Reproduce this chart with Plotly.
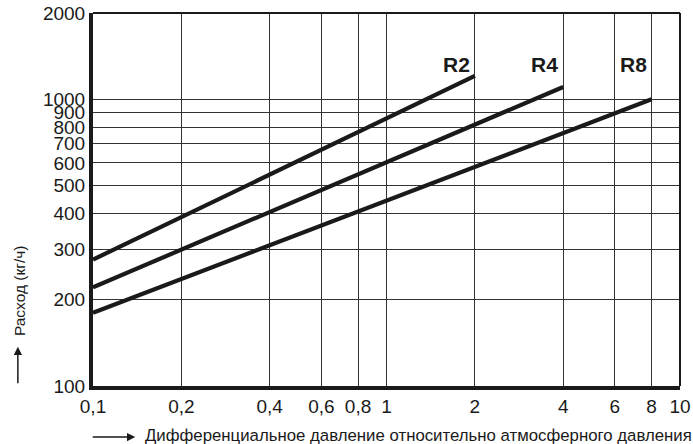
import math
import plotly.graph_objects as go

# Data
series_names = ["R2", "R4", "R8"]
r2_x = [0.1, 2]
r2_y = [276, 1206]
r4_x = [0.1, 4]
r4_y = [221, 1104]
r8_x = [0.1, 8]
r8_y = [180, 1000]

x_ticks = [0.1, 0.2, 0.4, 0.6, 0.8, 1, 2, 4, 6, 8, 10]
x_tick_labels = ["0,1", "0,2", "0,4", "0,6", "0,8", "1", "2", "4", "6", "8", "10"]
y_ticks = [100, 200, 300, 400, 500, 600, 700, 800, 900, 1000, 2000]
y_tick_labels = [str(v) for v in y_ticks]
label_y = 1320

x_title = "Дифференциальное давление относительно атмосферного давления"
y_title = "Расход (кг/ч)"

FONT = "Liberation Sans, Arial, sans-serif"
INK = "#1a1a1a"

fig = go.Figure()
for name, xs, ys in zip(series_names, [r2_x, r4_x, r8_x], [r2_y, r4_y, r8_y]):
    fig.add_trace(go.Scatter(x=xs, y=ys, mode="lines", name=name,
                             line=dict(color=INK, width=4.2), showlegend=False))
    fig.add_annotation(x=math.log10(xs[-1]), y=math.log10(label_y), xref="x", yref="y",
                       text="<b>%s</b>" % name, showarrow=False, xanchor="right",
                       yanchor="middle", xshift=-3,
                       font=dict(family=FONT, size=21, color=INK))

fig.update_xaxes(type="log", range=[-1, 1], tickvals=x_ticks, ticktext=x_tick_labels,
                 showgrid=True, gridcolor="#333", gridwidth=1, showline=True,
                 linecolor=INK, linewidth=4, ticks="", zeroline=False, automargin=False,
                 tickfont=dict(family=FONT, size=19, color=INK))
fig.update_yaxes(type="log", range=[2, math.log10(2000)], tickvals=y_ticks, ticktext=y_tick_labels,
                 showgrid=True, gridcolor="#333", gridwidth=1, showline=True,
                 linecolor=INK, linewidth=4, ticks="", zeroline=False, automargin=False,
                 tickfont=dict(family=FONT, size=19, color=INK))

# top and right border
fig.add_shape(type="line", xref="paper", yref="paper", x0=0, x1=1, y0=1, y1=1,
              line=dict(color=INK, width=2))
fig.add_shape(type="line", xref="paper", yref="paper", x0=1, x1=1, y0=0, y1=1,
              line=dict(color=INK, width=2))

# axis titles
fig.add_annotation(x=0.555, y=-0.134, xref="paper", yref="paper",
                   xanchor="center", yanchor="middle", text=x_title, showarrow=False,
                   font=dict(family=FONT, size=16.8, color=INK))
fig.add_annotation(x=-0.124, y=0.255, xref="paper", yref="paper", textangle=-90,
                   xanchor="center", yanchor="middle", text=y_title, showarrow=False,
                   font=dict(family=FONT, size=15.5, color=INK))

# arrows next to the axis titles
fig.add_annotation(x=0.072, y=-0.137, xref="paper", yref="paper", ax=-44, ay=0,
                   showarrow=True, arrowhead=2, arrowsize=1.1, arrowwidth=1.5,
                   arrowcolor=INK, text="", standoff=0)
fig.add_annotation(x=-0.128, y=0.105, xref="paper", yref="paper", ax=0, ay=38,
                   showarrow=True, arrowhead=2, arrowsize=1.1, arrowwidth=1.5,
                   arrowcolor=INK, text="", standoff=0)

fig.update_layout(width=693, height=444, margin=dict(l=93, r=13, t=13, b=58),
                  plot_bgcolor="white", paper_bgcolor="white", template="none")

fig.write_html("out.html", config={"displayModeBar": False},
               post_script="document.body.style.margin='0';document.body.style.overflow='hidden';")
